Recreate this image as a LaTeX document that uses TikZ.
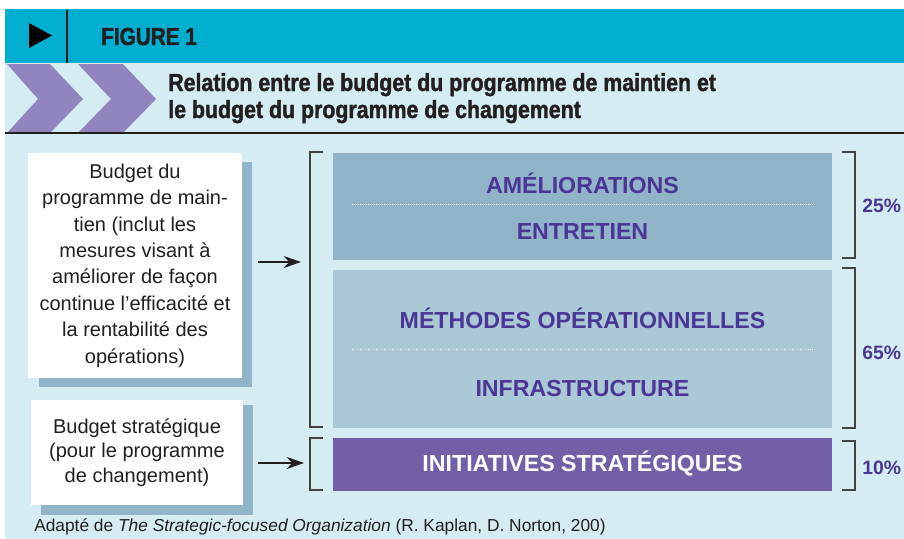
\documentclass[tikz,border=0pt]{standalone}
\usepackage{fontspec}
\setmainfont{Liberation Sans}
\newfontfamily\condfont[FakeStretch=0.865,FakeBold=1.5]{Liberation Sans Bold}
\newfontfamily\figfont[FakeStretch=0.84,FakeBold=1.5]{Liberation Sans Bold}
\usetikzlibrary{arrows.meta}
\definecolor{bandcyan}{RGB}{0,175,208}
\definecolor{bglight}{RGB}{213,236,243}
\definecolor{chevron}{RGB}{146,132,190}
\definecolor{boxdark}{RGB}{145,180,200}
\definecolor{boxlight}{RGB}{171,200,214}
\definecolor{boxpurple}{RGB}{114,95,168}
\definecolor{txtpurple}{RGB}{75,53,149}
\definecolor{inkdark}{RGB}{35,31,32}
\tikzset{
  pxbox/.style={inner sep=0pt, outer sep=0pt, draw=none},
  whitebox/.style={pxbox, fill=white, align=center, font=\fontsize{15}{19.8}\selectfont, text=inkdark},
  blocklabel/.style={font=\bfseries\fontsize{17.4}{20}\selectfont, text=txtpurple, inner sep=0pt},
  pctlabel/.style={font=\bfseries\fontsize{14.5}{17}\selectfont, text=txtpurple, inner sep=0pt, anchor=west},
  bracketline/.style={draw=inkdark!85, line width=1.1pt},
  feedarrow/.style={draw=inkdark, line width=1.5pt, -{Stealth[length=13pt,width=9pt]}},
  dotsep/.style={draw=white, line width=0.75pt, dash pattern=on 0.75pt off 0.75pt}
}
\begin{document}
\begin{tikzpicture}[x=0.75pt,y=-0.75pt]
\useasboundingbox (0,0) rectangle (904,539);
\fill[white] (0,0) rectangle (904,539);
% backgrounds
\fill[bglight] (5,63) rectangle (904,539);
\fill[bandcyan] (5,9) rectangle (904,63);
% header
\fill[black] (29,23) -- (52,35.5) -- (29,48) -- cycle;
\draw[inkdark, line width=1.1pt] (67,10) -- (67,63);
\node[anchor=base west, inner sep=0pt, text=inkdark, font=\figfont\fontsize{18.5}{20}\selectfont] (fig) at (101,45) {FIGURE 1};
% chevrons
\fill[chevron] (7,64) -- (50,64) -- (83,99) -- (50,133) -- (7,133) -- (38,99) -- cycle;
\fill[chevron] (78,64) -- (123,64) -- (156,99) -- (123,133) -- (78,133) -- (111,99) -- cycle;
\node[anchor=base west, inner sep=0pt, text=inkdark, font=\condfont\fontsize{18.5}{20}\selectfont] (title) at (168,91) {Relation entre le budget du programme de maintien et};
\node[anchor=base west, inner sep=0pt, text=inkdark, font=\condfont\fontsize{18.5}{20}\selectfont] (title2) at (168,118) {le budget du programme de changement};
\draw[inkdark, line width=1.5pt] (5,133) -- (904,133);
% left boxes with shadows
\fill[boxdark] (39,162) rectangle (252,387);
\node[whitebox, minimum width=160.5pt, minimum height=168.75pt] (maint) at (135,265.5) {Budget du\\programme de main-\\tien (inclut les\\mesures visant à\\améliorer de façon\\continue l’efficacité et\\la rentabilité des\\opérations)};
\fill[boxdark] (41,405) rectangle (253,515);
\node[whitebox, minimum width=159pt, minimum height=78.75pt, font=\fontsize{15}{18.2}\selectfont] (strat) at (137,452.5) {Budget stratégique\\(pour le programme\\de changement)};
% right blocks
\node[pxbox, fill=boxdark, minimum width=374.25pt, minimum height=80.25pt] (blockA) at (582.5,206.5) {};
\node[pxbox, fill=boxlight, minimum width=374.25pt, minimum height=118.5pt] (blockB) at (582.5,349) {};
\node[pxbox, fill=boxpurple, minimum width=374.25pt, minimum height=39.75pt] (blockC) at (582.5,464.5) {};
\draw[dotsep] (352,204) -- (813,204);
\draw[dotsep] (352,349) -- (813,349);
\node[blocklabel] (amel) at (582.5,183) {AMÉLIORATIONS};
\node[blocklabel] (entr) at (582.5,232) {ENTRETIEN};
\node[blocklabel] (meth) at (582.5,318) {MÉTHODES OPÉRATIONNELLES};
\node[blocklabel] (infra) at (582.5,389) {INFRASTRUCTURE};
\node[blocklabel, text=white] (init) at (582.5,463) {INITIATIVES STRATÉGIQUES};
% brackets
\draw[bracketline] (323,152) -- (310,152) -- (310,427) -- (323,427);
\draw[bracketline] (323,438) -- (310,438) -- (310,490) -- (323,490);
\draw[bracketline] (842,152) -- (855,152) -- (855,258) -- (842,258);
\draw[bracketline] (842,268) -- (855,268) -- (855,428) -- (842,428);
\draw[bracketline] (842,441) -- (855,441) -- (855,490) -- (842,490);
\coordinate (brA) at (301,262);
\coordinate (brB) at (304,463);
\draw[feedarrow] (maint.east |- brA) ++(16,0) -- (brA);
\draw[feedarrow] (strat.east |- brB) ++(15,0) -- (brB);
\node[pctlabel] (p25) at (862,206) {25\%};
\node[pctlabel] (p65) at (862,353) {65\%};
\node[pctlabel] (p10) at (862,468) {10\%};
% footer
\node[anchor=west, inner sep=0pt, text=inkdark, font=\fontsize{13}{15}\selectfont] (src) at (34,527) {Adapté de \textit{The Strategic-focused Organization} (R. Kaplan, D. Norton, 200)};
\end{tikzpicture}
\end{document}
